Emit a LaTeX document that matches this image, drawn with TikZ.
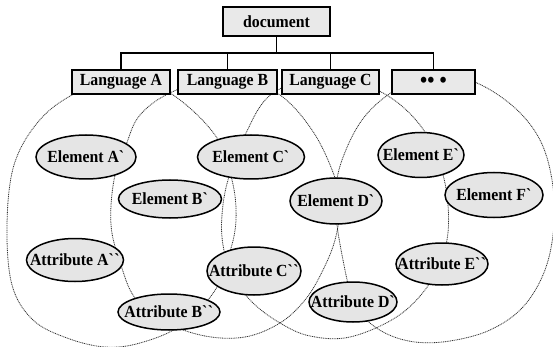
\documentclass[tikz,border=0pt]{standalone}
\usepackage{fontspec}
\setmainfont{Liberation Serif}[FakeStretch=0.93]
\usetikzlibrary{shapes.geometric}
\newcommand\mylbl[1]{\makebox[0pt]{#1}}
\begin{document}
\begin{tikzpicture}[x=1pt,y=-1pt,
  txt/.style={font=\fontsize{17}{19}\selectfont\bfseries},
  box/.style={txt, draw=black, line width=1.5pt, fill=gray!17, rectangle, inner sep=0pt, minimum height=24pt},
  elp/.style={txt, draw=black, line width=1.5pt, fill=gray!20, ellipse, inner sep=0pt},
  ring/.style={draw=black!80, line width=0.8pt, dash pattern=on 1pt off 0.8pt},
  tree/.style={draw=black, line width=1.3pt}]
\useasboundingbox (0,0) rectangle (553,347);
% rings
\draw[ring] plot[smooth cycle, tension=0.6] coordinates {(121,76) (170,93) (215,135) (232,180) (236,220) (229,255) (214,292) (180,326) (140,343) (105,347) (67,338) (33,320) (12,285) (7,225) (14,165) (38,122) (72,95)};
\draw[ring] plot[smooth cycle, tension=0.6] coordinates {(226,76) (277,93) (312,130) (334,175) (340,205) (335,240) (322,272) (305,300) (280,323) (245,337) (205,336) (165,322) (135,298) (120,262) (111,225) (114,180) (126,145) (140,115) (172,92)};
\draw[ring] plot[smooth cycle, tension=0.6] coordinates {(330,76) (383,93) (420,125) (440,165) (448,205) (446,245) (430,283) (398,316) (350,337) (310,336) (280,323) (252,302) (232,275) (223,245) (222,215) (228,180) (245,135) (273,93)};
\draw[ring] plot[smooth cycle, tension=0.6] coordinates {(433,72) (477,83) (515,108) (540,140) (552,180) (554,225) (545,270) (523,307) (490,330) (450,341) (415,342) (385,333) (362,315) (350,290) (343,260) (337,225) (335,195) (342,160) (362,120) (392,92)};
% tree
\node[box, minimum width=107pt, minimum height=29pt] (doc) at (276.5,21.5) {document};
\node[box, minimum width=98pt] (la) at (121,82) {Language A};
\node[box, minimum width=99pt] (lb) at (227.5,82) {Language B};
\node[box, minimum width=97pt] (lc) at (330.5,82) {Language C};
\node[box, minimum width=83pt] (ld) at (433.5,82) {\fontsize{22}{22}\selectfont•• •\hspace{24pt}};
\coordinate (j) at (276.5,53);
\draw[tree] (doc.south) -- (j);
\draw[tree] (la.north) -- (la.north |- j) -- (ld.north |- j) -- (ld.north);
\draw[tree] (lb.north) -- (lb.north |- j);
\draw[tree] (lc.north) -- (lc.north |- j);
% ellipses
\node[elp, minimum width=100pt, minimum height=44pt] (ea) at (86,157) {\mylbl{Element A\textasciigrave}};
\node[elp, minimum width=103pt, minimum height=38pt] (eb) at (170,199) {\mylbl{Element B\textasciigrave}};
\node[elp, minimum width=107pt, minimum height=44pt] (ec) at (251,157) {\mylbl{Element C\textasciigrave}};
\node[elp, minimum width=92pt, minimum height=46pt] (ed) at (336,201) {\mylbl{Element D\textasciigrave}};
\node[elp, minimum width=86pt, minimum height=45pt] (ee) at (421,155) {\mylbl{Element E\textasciigrave}};
\node[elp, minimum width=98pt, minimum height=45pt] (ef) at (494,195) {\mylbl{Element F\textasciigrave}};
\node[elp, minimum width=97pt, minimum height=43pt] (aa) at (75,260) {\mylbl{Attribute A\textasciigrave\textasciigrave}};
\node[elp, minimum width=102pt, minimum height=36pt] (ab) at (169,312) {\mylbl{Attribute B\textasciigrave\textasciigrave}};
\node[elp, minimum width=94pt, minimum height=48pt] (ac) at (254,271) {\mylbl{Attribute C\textasciigrave\textasciigrave}};
\node[elp, minimum width=88pt, minimum height=40pt] (ad) at (353,302) {\mylbl{Attribute D\textasciigrave}};
\node[elp, minimum width=92pt, minimum height=42pt] (ae) at (442,264) {\mylbl{Attribute E\textasciigrave\textasciigrave}};
\end{tikzpicture}
\end{document}
